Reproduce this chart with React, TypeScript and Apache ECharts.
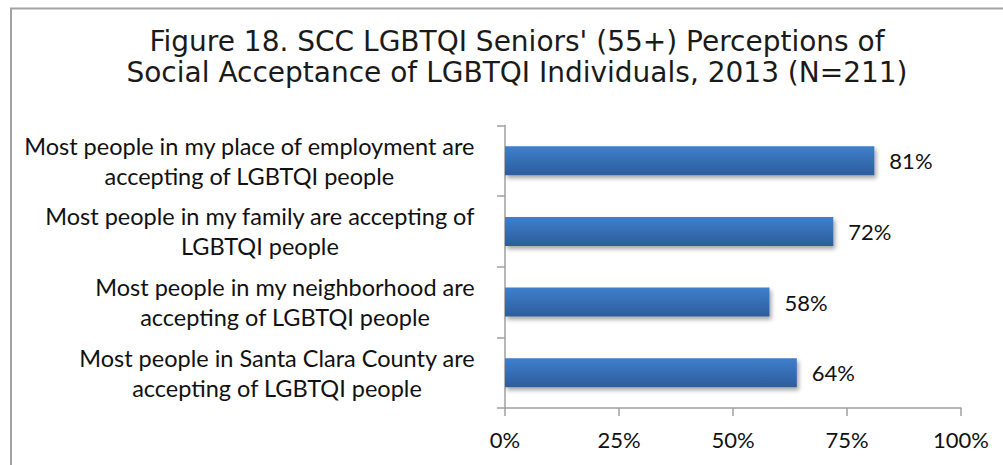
import React, { useEffect, useRef } from "react";
import * as echarts from "echarts";

const titleLines = [
  "Figure 18. SCC LGBTQI Seniors' (55+) Perceptions of",
  "Social Acceptance of LGBTQI Individuals, 2013 (N=211)",
];
const categories = [
  "Most people in my place of employment are\naccepting of LGBTQI people",
  "Most people in my family are accepting of\nLGBTQI people",
  "Most people in my neighborhood are\naccepting of LGBTQI people",
  "Most people in Santa Clara County are\naccepting of LGBTQI people",
];
const values = [81, 72, 58, 64];
const xTicks = [0, 25, 50, 75, 100];

export default function App() {
  const ref = useRef<HTMLDivElement>(null);
  useEffect(() => {
    if (!ref.current) return;
    const chart = echarts.init(ref.current, null, { renderer: "svg" });
    const labelFont = "Lato, 'Noto Sans', sans-serif";
    chart.setOption({
      animation: false,
      backgroundColor: "#ffffff",
      title: {
        text: titleLines.join("\n"),
        left: 512,
        top: 21,
        textAlign: "center",
        textStyle: {
          fontFamily: "'DejaVu Sans', sans-serif",
          fontSize: 28,
          fontWeight: "normal",
          color: "#1a1a1a",
          lineHeight: 31,
        },
      },
      graphic: [
        {
          type: "line",
          shape: { x1: 11, y1: 8.5, x2: 11, y2: 465 },
          style: { stroke: "#a3a3a3", lineWidth: 2 },
        },
        {
          type: "line",
          shape: { x1: 10, y1: 8.5, x2: 1003, y2: 8.5 },
          style: { stroke: "#a3a3a3", lineWidth: 2 },
        },
      ],
      grid: { left: 505, right: 42, top: 125.5, bottom: 57, containLabel: false },
      xAxis: {
        type: "value",
        min: xTicks[0],
        max: xTicks[xTicks.length - 1],
        interval: 25,
        splitLine: { show: false },
        axisLine: { show: true, lineStyle: { color: "#a0a0a0", width: 1.5 } },
        axisTick: { show: true, length: 8, lineStyle: { color: "#a0a0a0", width: 1.5 } },
        axisLabel: {
          formatter: (v: number) => `${v}%`,
          fontFamily: labelFont,
          fontSize: 22,
          color: "#111111",
          margin: 20,
        },
      },
      yAxis: {
        type: "category",
        data: categories,
        inverse: true,
        axisLine: { show: true, lineStyle: { color: "#a0a0a0", width: 1.5 } },
        axisTick: { show: true, length: 8, lineStyle: { color: "#a0a0a0", width: 1.5 } },
        axisLabel: {
          margin: 30,
          align: "right",
          formatter: (v: string) =>
            v
              .split("\n")
              .map((l) => `{c|${l}}`)
              .join("\n"),
          rich: {
            c: {
              align: "center",
              fontFamily: labelFont,
              fontSize: 23.5,
              lineHeight: 30,
              color: "#111111",
            },
          },
        },
      },
      series: [
        {
          type: "bar",
          data: values,
          barCategoryGap: "59%",
          itemStyle: {
            color: new echarts.graphic.LinearGradient(0, 0, 0, 1, [
              { offset: 0, color: "#3f7fcc" },
              { offset: 1, color: "#2d5d9b" },
            ]),
            shadowColor: "rgba(0,0,0,0.35)",
            shadowBlur: 4,
            shadowOffsetX: 2,
            shadowOffsetY: 3,
          },
          label: {
            show: true,
            position: "right",
            distance: 15,
            formatter: (p: any) => `${p.value}%`,
            fontFamily: labelFont,
            fontSize: 22,
            color: "#111111",
          },
        },
      ],
    });
    return () => chart.dispose();
  }, []);
  return (
    <div
      ref={ref}
      style={{ position: "fixed", left: 0, top: 0, width: 1003, height: 465 }}
    />
  );
}
